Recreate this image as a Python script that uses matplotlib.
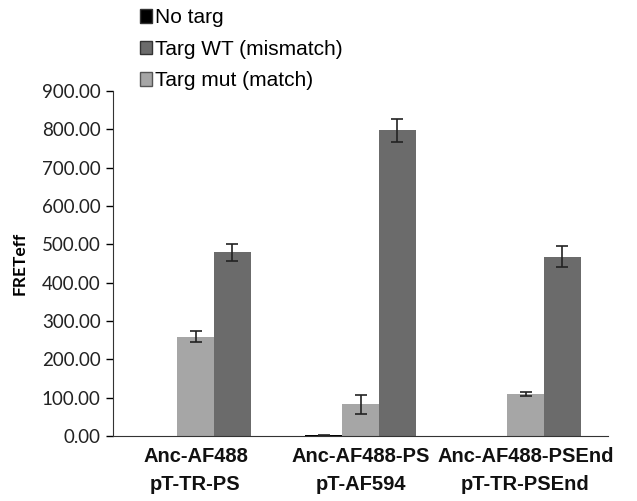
import matplotlib
matplotlib.use("Agg")
import matplotlib.pyplot as plt
from matplotlib.patches import Patch
import numpy as np

# data
groups = ["Anc-AF488\npT-TR-PS", "Anc-AF488-PS\npT-AF594", "Anc-AF488-PSEnd\npT-TR-PSEnd"]
no_targ = [0, 2, 0]
no_targ_err = [0, 1, 0]
targ_mut = [259, 83, 110]
targ_mut_err = [14, 25, 5]
targ_wt = [479, 797, 468]
targ_wt_err = [22, 30, 28]

c_black = "#000000"
c_dark = "#6b6b6b"
c_light = "#a6a6a6"

fig = plt.figure(figsize=(6.37, 5.01), dpi=100)
ax = fig.add_axes([0.1774, 0.1297, 0.7771, 0.6887])

x = np.arange(len(groups))
w = 0.224
ek = dict(fmt="none", ecolor="#222222", elinewidth=1.2, capsize=4.3, capthick=1.2)
for off, vals, errs, col in [(-w, no_targ, no_targ_err, c_black),
                             (0, targ_mut, targ_mut_err, c_light),
                             (w, targ_wt, targ_wt_err, c_dark)]:
    ax.bar(x + off, vals, w, color=col)
    # skip error bars on empty bars
    yv = np.array([v if e > 0 else np.nan for v, e in zip(vals, errs)], dtype=float)
    ax.errorbar(x + off, yv, yerr=errs, **ek)

ax.set_xlim(-0.5, 2.5)
ax.set_ylim(0, 900)
ax.set_yticks(np.arange(0, 901, 100))
ax.set_yticklabels([f"{v:.2f}" for v in np.arange(0, 901, 100)], fontsize=13.5,
                   family="Lato", color="#222222")
ax.set_xticks(x)
ax.set_xticklabels(groups, fontsize=14.5, fontweight="bold", family="Liberation Sans",
                   linespacing=1.6, color="#111111")
ax.tick_params(axis="x", length=0, pad=8)
ax.tick_params(axis="y", length=5, width=1, direction="out", pad=4)
ax.spines["top"].set_visible(False)
ax.spines["right"].set_visible(False)
ax.spines["left"].set_color("#333333")
ax.spines["bottom"].set_color("#333333")
ax.set_ylabel("FRETeff", fontsize=12.5, fontweight="bold", family="Lato", labelpad=10)

handles = [Patch(facecolor=c_black, edgecolor="#333333"),
           Patch(facecolor=c_dark, edgecolor="#333333"),
           Patch(facecolor=c_light, edgecolor="#555555")]
labels = ["No targ", "Targ WT (mismatch)", "Targ mut (match)"]
fig.legend(handles, labels, loc="upper left", bbox_to_anchor=(0.206, 1.0),
           frameon=False, prop={"family": "Liberation Sans", "size": 15},
           handlelength=0.6, handleheight=0.6, handletextpad=0.15,
           labelspacing=0.6, borderaxespad=0)

fig.savefig("out.png", dpi=100)
